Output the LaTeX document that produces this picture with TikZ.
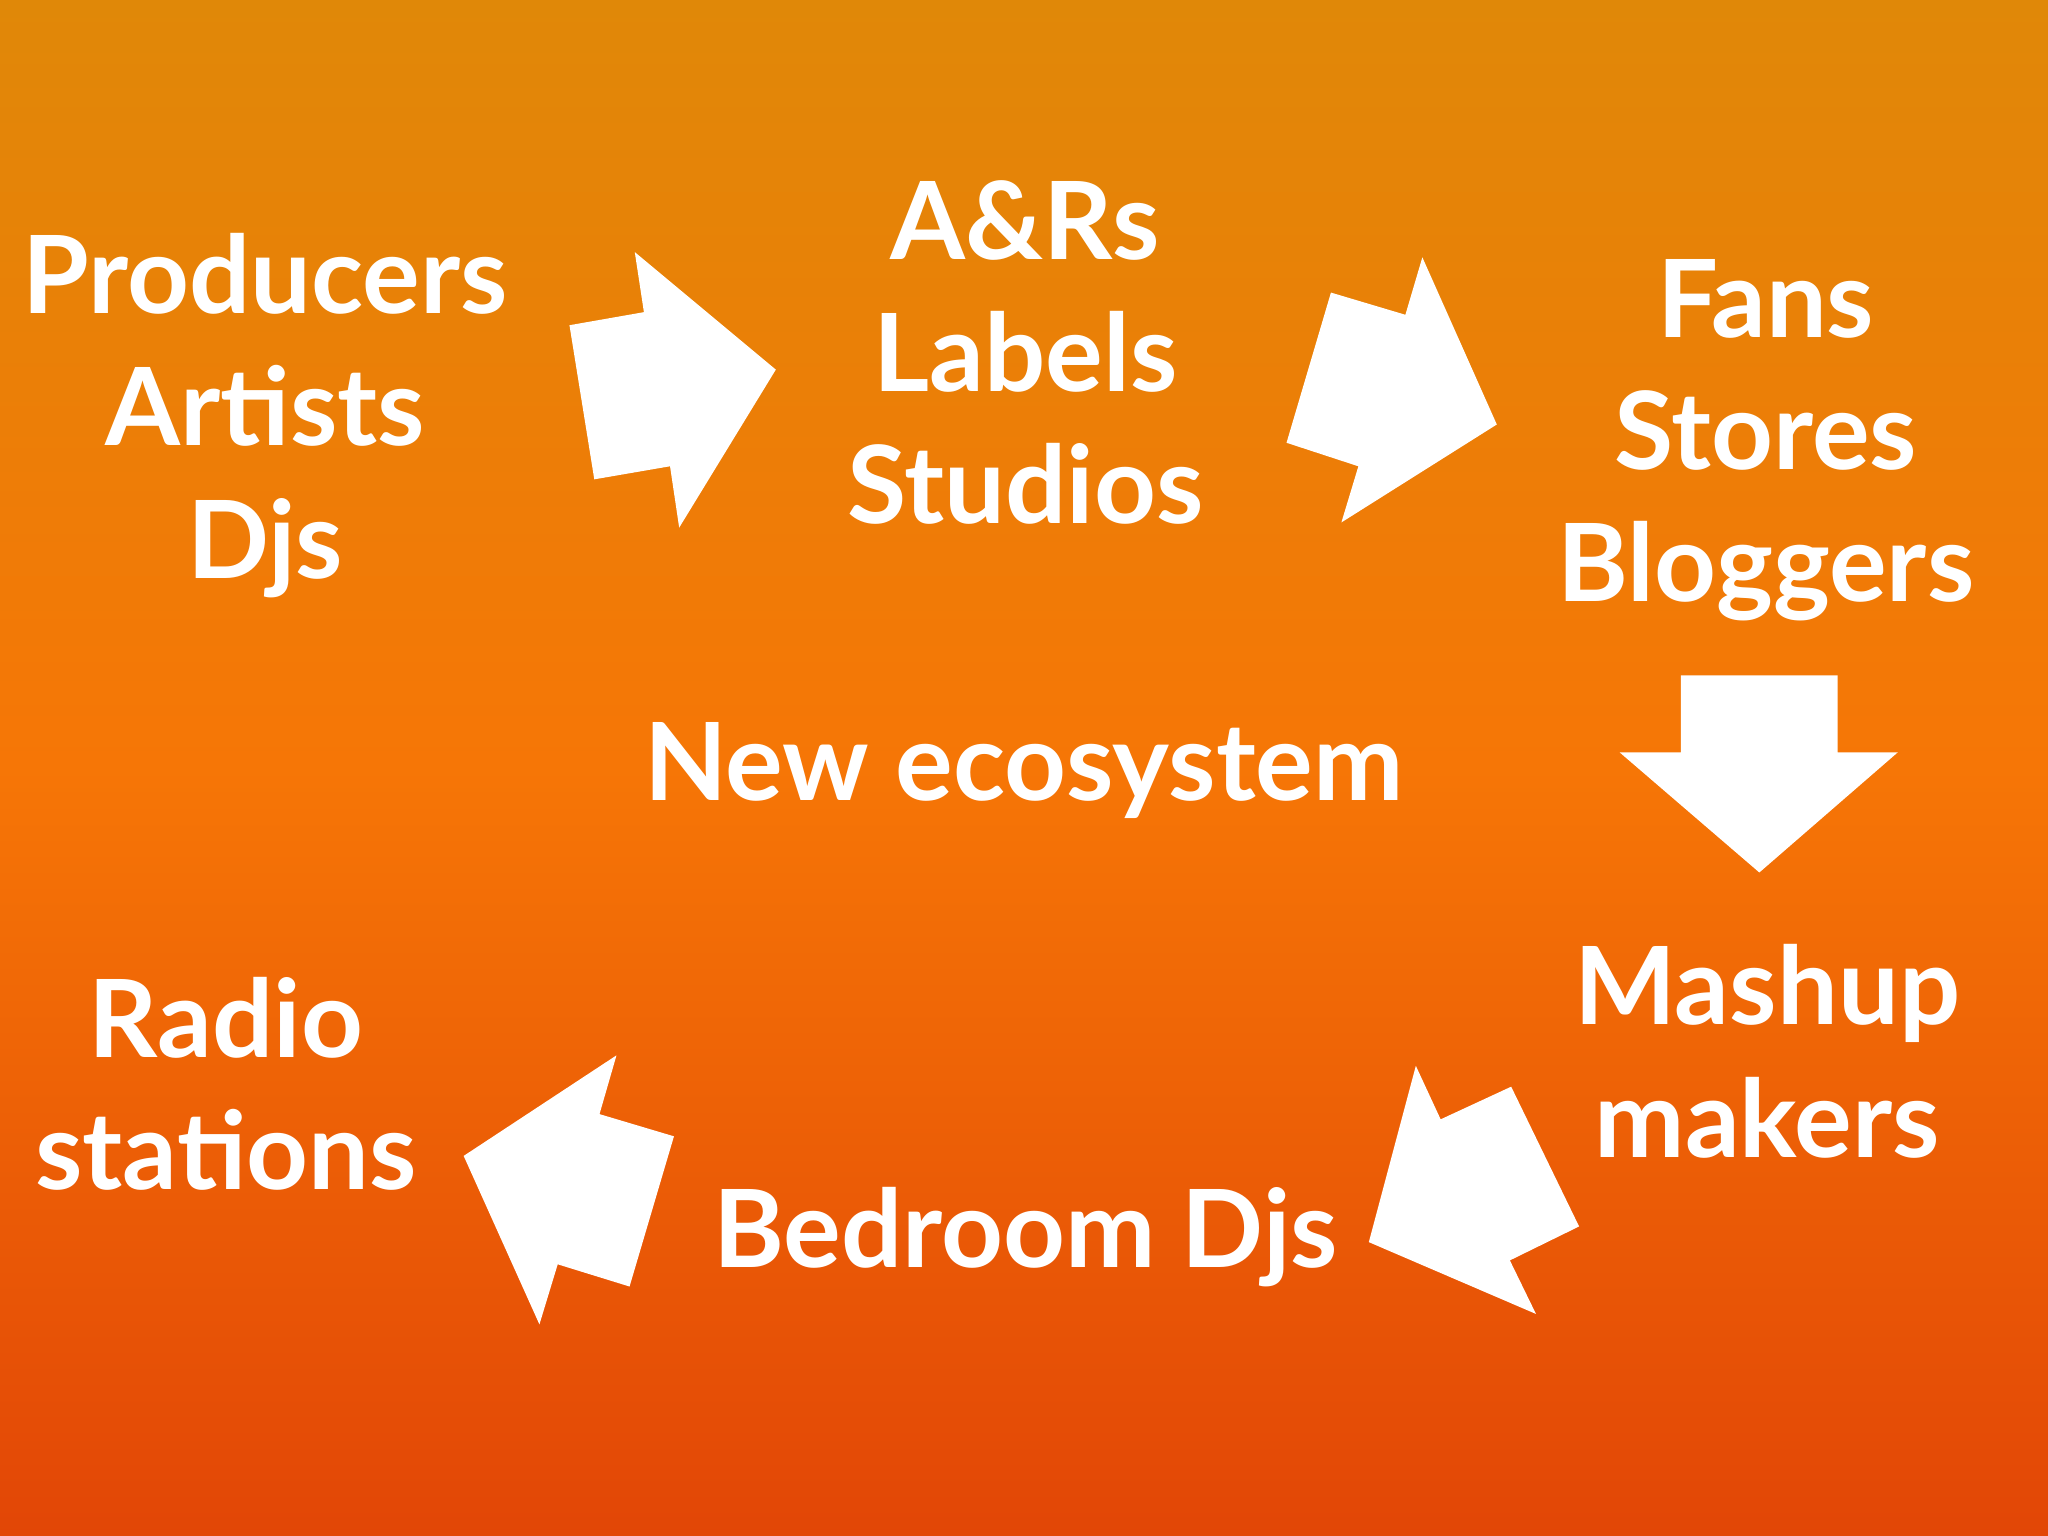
\documentclass[tikz,border=0pt]{standalone}
\usepackage{fontspec}
\setmainfont{Lato}[UprightFont=* Bold]
\begin{document}
\begin{tikzpicture}[x=0.01cm,y=-0.01cm,
  lbl/.style={text=white,align=center,font=\fontsize{23.5}{28.8}\selectfont,inner sep=0},
  arr/.style={fill=white,draw=none}]
\useasboundingbox (0,0) rectangle (1568,1176);
\shade[top color={rgb,255:red,224;green,136;blue,8},bottom color={rgb,255:red,226;green,70;blue,6},middle color={rgb,255:red,246;green,118;blue,6}] (0,0) rectangle (1568,1176);
\fill[arr] (486,193) -- (594,283) -- (520,404) -- (513,357) -- (455,367) -- (436,249) -- (493,239) -- cycle;
\fill[arr] (1089,197) -- (1146,325) -- (1027,400) -- (1040,357) -- (985,339) -- (1019,224) -- (1076,241) -- cycle;
\fill[arr] (1287,517) -- (1407,517) -- (1407,576) -- (1453,576) -- (1347,668) -- (1240,576) -- (1287,576) -- cycle;
\fill[arr] (1084,816) -- (1103,857) -- (1157,832) -- (1209,939) -- (1156,965) -- (1176,1006) -- (1048,951) -- cycle;
\fill[arr] (355,885) -- (472,808) -- (459,853) -- (516,870) -- (482,985) -- (427,968) -- (413,1014) -- cycle;
\node[lbl] (p) at (203,318) {Producers\\Artists\\Djs};
\node[lbl] (a) at (785,270) {A\&Rs\\Labels\\Studios};
\node[lbl] (f) at (1352,337) {Fans\\Stores\\Bloggers};
\node[lbl] (n) at (784,590) {New ecosystem};
\node[lbl] (m) at (1353,805) {Mashup\\makers};
\node[lbl] (r) at (173,830) {Radio\\stations};
\node[lbl] (b) at (785,947) {Bedroom Djs};
\end{tikzpicture}
\end{document}
